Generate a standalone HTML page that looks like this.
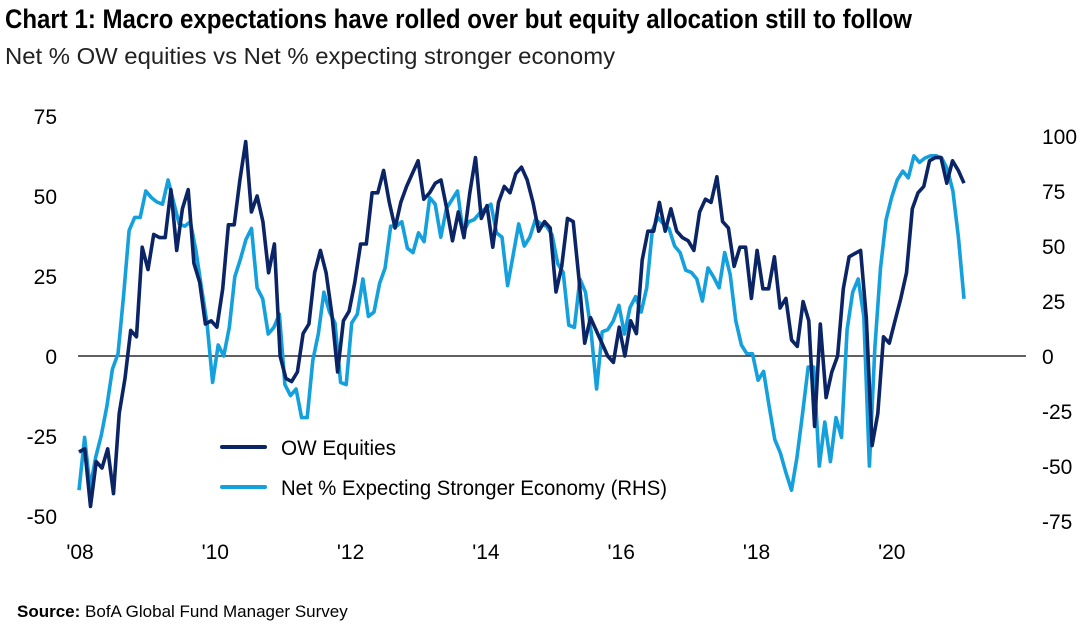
<!DOCTYPE html>
<html><head><meta charset="utf-8"><style>
html,body{margin:0;padding:0;background:#fff;}
svg{display:block;font-family:"Liberation Sans",sans-serif;}
</style></head><body>
<svg id="chart" width="1088" height="630" viewBox="0 0 1088 630" xmlns="http://www.w3.org/2000/svg">
<text x="5" y="28" font-size="27" font-weight="bold" textLength="907" lengthAdjust="spacingAndGlyphs" fill="#000">Chart 1: Macro expectations have rolled over but equity allocation still to follow</text>
<text x="5" y="64" font-size="23" textLength="610" lengthAdjust="spacingAndGlyphs" fill="#222">Net % OW equities vs Net % expecting stronger economy</text>
<g id="axes"></g>
<g id="series"></g>
<g>
<line x1="222" y1="447" x2="265" y2="447" stroke="#0b2466" stroke-width="4" stroke-linecap="round"/>
<text x="281" y="455" font-size="21" textLength="115" lengthAdjust="spacingAndGlyphs" fill="#000">OW Equities</text>
<line x1="222" y1="487" x2="265" y2="487" stroke="#14a0dc" stroke-width="4" stroke-linecap="round"/>
<text x="281" y="495" font-size="21" textLength="386" lengthAdjust="spacingAndGlyphs" fill="#000">Net % Expecting Stronger Economy (RHS)</text>
</g>
<text x="17" y="617" font-size="17" fill="#000"><tspan font-weight="bold">Source:</tspan> BofA Global Fund Manager Survey</text>
</svg>
<script>
const leftTicks = [75, 50, 25, 0, -25, -50];
const rightTicks = [100, 75, 50, 25, 0, -25, -50, -75];
const xLabels = ["'08", "'10", "'12", "'14", "'16", "'18", "'20"];
const owEquities = [-30,-29,-47,-33,-35,-29,-43,-18,-7,8,6,34,27,38,37,37,52,33,46,52,29,23,10,11,9,21,41,41,55,67,45,50,42,26,35,0,-7,-8,-5,7,10,26,33,26,13,-5,11,14,23,35,
35,51,51,58,48,40,48,53,57,61,49,51,54,55,46,36,45,37,51,62,43,47,34,48,53,51,57,59,55,48,39,42,40,20,28,43,42,24,4,12,8,4,0,-2,9,0,11,
7,30,39,39,48,39,46,39,37,36,33,45,49,48,56,42,40,28,34,34,18,33,21,21,31,15,18,5,3,17,11,-22,10,-13,-5,0,21,31,32,33,12,-28,-18,6,4,11,18,26,46,51,53,61,62,62,54,61,58,54];
const strongerEconomy = [-61,-37,-60,-46,-36,-23,-6,1,27,57,63,63,75,72,70,69,80,70,60,59,61,48,31,15,-12,5,0,13,36,44,53,58,31,26,10,13,19,-13,-18,-15,-28,-28,-2,10,29,20,15,-12,-13,15,19,35,
18,20,33,40,59,59,61,49,47,56,52,72,69,54,67,71,75,56,61,62,65,67,69,56,54,32,46,60,50,54,62,60,59,55,42,38,14,13,35,29,11,-15,11,12,16,23,10,22,27,20,
31,57,63,60,58,50,47,39,38,35,25,40,36,31,47,37,16,5,1,1,-11,-7,-23,-38,-44,-53,-61,-46,-26,-5,-5,-50,-30,-48,-28,-37,12,29,35,18,-50,4,40,62,72,80,84,81,91,88,90,91,91,90,85,75,54,26];

const NS = "http://www.w3.org/2000/svg";
const X0 = 79, X1 = 964;
const yL = v => 356 - v * 3.2;
const yR = v => 356 - v * 2.2;
const xIdx = (i, n) => X0 + (X1 - X0) * i / (n - 1);
const axes = document.getElementById('axes');
const series = document.getElementById('series');
function mk(tag, attrs, parent) {
  const el = document.createElementNS(NS, tag);
  for (const k in attrs) el.setAttribute(k, attrs[k]);
  parent.appendChild(el);
  return el;
}
leftTicks.forEach(v => {
  const t = mk('text', {x: 57, y: yL(v) + 8, 'font-size': 21, 'text-anchor': 'end', fill: '#000'}, axes);
  
  
  t.textContent = v;
});
rightTicks.forEach(v => {
  const t = mk('text', {x: 1042, y: yR(v) + 8, 'font-size': 21, fill: '#000'}, axes);
  
  
  t.textContent = v;
});
xLabels.forEach((lab, i) => {
  const t = mk('text', {x: 80 + i * 135.3, y: 559, 'font-size': 21, 'text-anchor': 'middle', fill: '#000'}, axes);
  
  
  t.textContent = lab;
});
const zl = mk('line', {x1: 78, y1: yL(0), x2: 1026, y2: yL(0), stroke: '#000', 'stroke-width': 1.2}, axes);



function pathFor(arr, yf) {
  return arr.map((v, i) => (i ? 'L' : 'M') + xIdx(i, arr.length).toFixed(1) + ',' + yf(v).toFixed(1)).join(' ');
}
const p2 = mk('path', {d: pathFor(strongerEconomy, yR), fill: 'none', stroke: '#14a0dc', 'stroke-width': 3.6, 'stroke-linejoin': 'round'}, series);


const p1 = mk('path', {d: pathFor(owEquities, yL), fill: 'none', stroke: '#0b2466', 'stroke-width': 3.6, 'stroke-linejoin': 'round'}, series);


</script>
</body></html>
